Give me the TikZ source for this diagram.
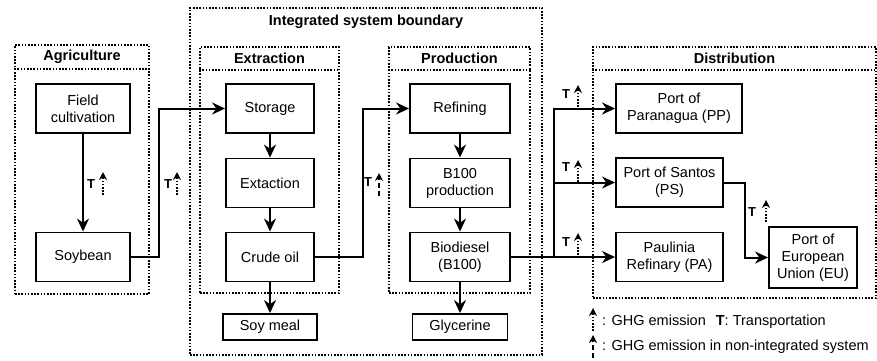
\documentclass[tikz,border=0pt]{standalone}
\usepackage{fontspec}
\setmainfont{Liberation Sans}
\usepackage{tikz}
\usetikzlibrary{arrows.meta, positioning, backgrounds}

\begin{document}
\begin{tikzpicture}[
  x=1pt, y=-1pt,
  every node/.style = {font=\fontsize{14.5pt}{17pt}\selectfont},
  box/.style   = {rectangle, draw=black, line width=1.9pt, align=center,
                  minimum height=49pt, inner sep=2pt},
  grp/.style   = {rectangle, draw=black, line width=1.6pt,
                  dash pattern=on 1.6pt off 1.6pt},
  hdr/.style   = {line width=1.6pt, dash pattern=on 1.6pt off 1.6pt},
  ttl/.style   = {font=\fontsize{14.5pt}{17pt}\selectfont\bfseries},
  arr/.style   = {-{Stealth[length=13pt, width=12pt]}, line width=2pt},
  tlab/.style  = {font=\fontsize{13pt}{15pt}\selectfont\bfseries, inner sep=0pt},
  ghg/.style   = {-{Stealth[length=8pt, width=8pt]}, line width=1.6pt,
                  dash pattern=on 1.6pt off 1.6pt},
  ghgni/.style = {-{Stealth[length=8pt, width=8pt]}, line width=1.6pt,
                  dash pattern=on 5pt off 3pt}
]
\useasboundingbox (0,0) rectangle (877,360);

%% ── BOUNDARY BOXES ──────────────────────────────────────────────
\node[grp, minimum width=134pt, minimum height=249pt] at (82,169.5)    (agri) {};
\node[grp, minimum width=352pt, minimum height=347pt] at (366,181.5)   (isb)  {};
\node[grp, minimum width=139pt, minimum height=246pt] at (269.5,170)   (extr) {};
\node[grp, minimum width=141pt, minimum height=246pt] at (459.5,170)   (prod) {};
\node[grp, minimum width=283pt, minimum height=251pt] at (734.5,172.5) (dist) {};

\draw[hdr] ([yshift=-25pt]agri.north west) -- ([yshift=-25pt]agri.north east);
\draw[hdr] ([yshift=-24pt]extr.north west) -- ([yshift=-24pt]extr.north east);
\draw[hdr] ([yshift=-24pt]prod.north west) -- ([yshift=-24pt]prod.north east);
\draw[hdr] ([yshift=-24pt]dist.north west) -- ([yshift=-24pt]dist.north east);

\node[ttl] at ([yshift=-12.5pt]agri.north) (agrittl) {Agriculture};
\node[ttl] at (366,22)                     (isbttl)  {Integrated system boundary};
\node[ttl] at ([yshift=-12pt]extr.north)   (extrttl) {Extraction};
\node[ttl] at ([yshift=-12pt]prod.north)   (prodttl) {Production};
\node[ttl] at ([yshift=-12pt]dist.north)   (distttl) {Distribution};

%% ── AGRICULTURE ─────────────────────────────────────────────────
\node[box, minimum width=94pt] at (83,108.5) (field) {Field\\cultivation};
\node[box, minimum width=94pt] at (83,257)   (soy)   {Soybean};

%% ── EXTRACTION ──────────────────────────────────────────────────
\node[box, minimum width=88pt] at (270,108.5) (stor)    {Storage};
\node[box, minimum width=88pt] at (270,183)   (extact)  {Extaction};
\node[box, minimum width=88pt] at (270,257)   (crude)   {Crude oil};
\node[box, minimum width=94pt, minimum height=26pt] at (270,327) (soymeal) {Soy meal};

%% ── PRODUCTION ──────────────────────────────────────────────────
\node[box, minimum width=100pt] at (460,108.5) (refine) {Refining};
\node[box, minimum width=100pt] at (460,183)   (b100)   {B100\\production};
\node[box, minimum width=100pt] at (460,257)   (biod)   {Biodiesel\\(B100)};
\node[box, minimum width=95pt, minimum height=26pt] at (460,327) (glyc) {Glycerine};

%% ── DISTRIBUTION ────────────────────────────────────────────────
\node[box, minimum width=126pt] at (679,108.5)   (pp) {Port of\\Paranagua (PP)};
\node[box, minimum width=107pt] at (669.5,182.5) (ps) {Port of Santos\\(PS)};
\node[box, minimum width=107pt] at (669.5,257)   (pa) {Paulinia\\Refinary (PA)};
\node[box, minimum width=88pt, minimum height=61pt] at (813,257.5) (eu) {Port of\\European\\Union (EU)};

%% ── ARROWS ──────────────────────────────────────────────────────
\draw[arr] (field)     -- (soy);
\draw[arr] (soy.east)  -- ++(28,0) |- (stor.west);
\draw[arr] (stor)      -- (extact);
\draw[arr] (extact)    -- (crude);
\draw[arr] (crude)     -- (soymeal);
\draw[arr] (crude.east) -- ++(48,0) |- (refine.west);
\draw[arr] (refine)    -- (b100);
\draw[arr] (b100)      -- (biod);
\draw[arr] (biod)      -- (glyc);
\draw[arr] (biod)      -- (pa);
\coordinate (split) at (554,257);
\draw[arr] (split)     |- (pp.west);
\draw[arr] (split)     |- (ps.west);
\draw[arr] (ps.east)   -- ++(21,0) |- (eu.west);

%% ── TRANSPORT + GHG MARKS ───────────────────────────────────────
\node[tlab] at (91,184)  (t1) {T};
\node[tlab] at (168,184) (t2) {T};
\node[tlab] at (368,182) (t3) {T};
\node[tlab] at (566,94)  (t4) {T};
\node[tlab] at (566,167) (t5) {T};
\node[tlab] at (566,242) (t6) {T};
\node[tlab] at (752,212) (t7) {T};

\coordinate (g1) at (103,195);
\coordinate (g2) at (177,195);
\coordinate (g3) at (379,196);
\coordinate (g4) at (578,107);
\coordinate (g5) at (578,182);
\coordinate (g6) at (578,255);
\coordinate (g7) at (766,222);
\draw[ghg]   (g1) -- ++(0,-23);
\draw[ghg]   (g2) -- ++(0,-23);
\draw[ghgni] (g3) -- ++(0,-23);
\draw[ghg]   (g4) -- ++(0,-22);
\draw[ghg]   (g5) -- ++(0,-22);
\draw[ghg]   (g6) -- ++(0,-22);
\draw[ghg]   (g7) -- ++(0,-22);

%% ── LEGEND ──────────────────────────────────────────────────────
\coordinate (lg1) at (593,331);
\coordinate (lg2) at (593,358);
\draw[ghg]   (lg1) -- ++(0,-23);
\draw[ghgni] (lg2) -- ++(0,-23);
\node[anchor=west, inner sep=0pt] at (602,322) (leg1)
  {: GHG emission\hspace{10pt}\textbf{T}: Transportation};
\node[anchor=west, inner sep=0pt] at (602,347) (leg2)
  {: GHG emission in non-integrated system};

\end{tikzpicture}
\end{document}
